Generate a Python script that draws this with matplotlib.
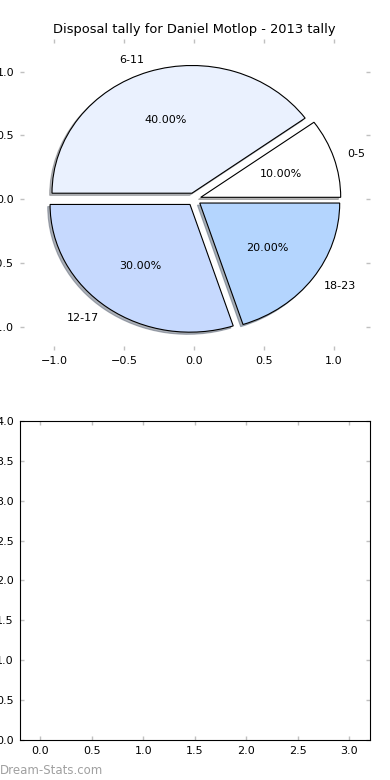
import matplotlib
matplotlib.use('Agg')
import matplotlib.pyplot as plt

# disposal tally per quarter-game bracket
brackets = ['0-5', '6-11', '12-17', '18-23']
tally = [10, 40, 30, 20]

wedge_colors = ['#ffffff', '#eaf1fe', '#c6d9fe', '#b4d5fe']

plt.rcParams['font.size'] = 8
plt.rcParams['xtick.direction'] = 'in'
plt.rcParams['ytick.direction'] = 'in'

fig = plt.figure(figsize=(3.9, 7.8), dpi=100)
ax1 = fig.add_axes([0.051, 0.5513, 0.897, 0.3987])
ax2 = fig.add_axes([0.05, 0.0513, 0.899, 0.4090])

wedges, texts, autotexts = ax1.pie(tally, labels=brackets, colors=wedge_colors,
                                   explode=[0.05] * 4, autopct='%.2f%%',
                                   shadow=dict(ox=-0.012, oy=-0.012, shade=0.55),
                                   startangle=0, counterclock=True,
                                   wedgeprops=dict(edgecolor='k', linewidth=0.8),
                                   textprops=dict(fontsize=8), frame=True)
ax1.set_aspect('auto')
ax1.set_xlim(-1.245, 1.255)
ax1.set_ylim(-1.18, 1.255)
ax1.set_xticks([-1.0, -0.5, 0.0, 0.5, 1.0])
ax1.set_yticks([-1.0, -0.5, 0.0, 0.5, 1.0])
for s in ax1.spines.values():
    s.set_visible(False)
ax1.set_title('Disposal tally for Daniel Motlop - 2013 tally', fontsize=9.4, pad=4)

ax2.set_xlim(-0.2, 3.2)
ax2.set_ylim(0, 4)
ax2.set_xticks([0.0, 0.5, 1.0, 1.5, 2.0, 2.5, 3.0])
ax2.set_yticks([0.0, 0.5, 1.0, 1.5, 2.0, 2.5, 3.0, 3.5, 4.0])

for ax in (ax1, ax2):
    ax.tick_params(which='both', color='#c0c0c0', length=3, width=1,
                   top=True, right=True, labelsize=8, pad=4)

fig.text(0.0, 0.0128, 'Dream-Stats.com', color='#a0a0a0', fontsize=8.5,
         ha='left', va='center')

fig.savefig('out.png', dpi=100, facecolor='white')
